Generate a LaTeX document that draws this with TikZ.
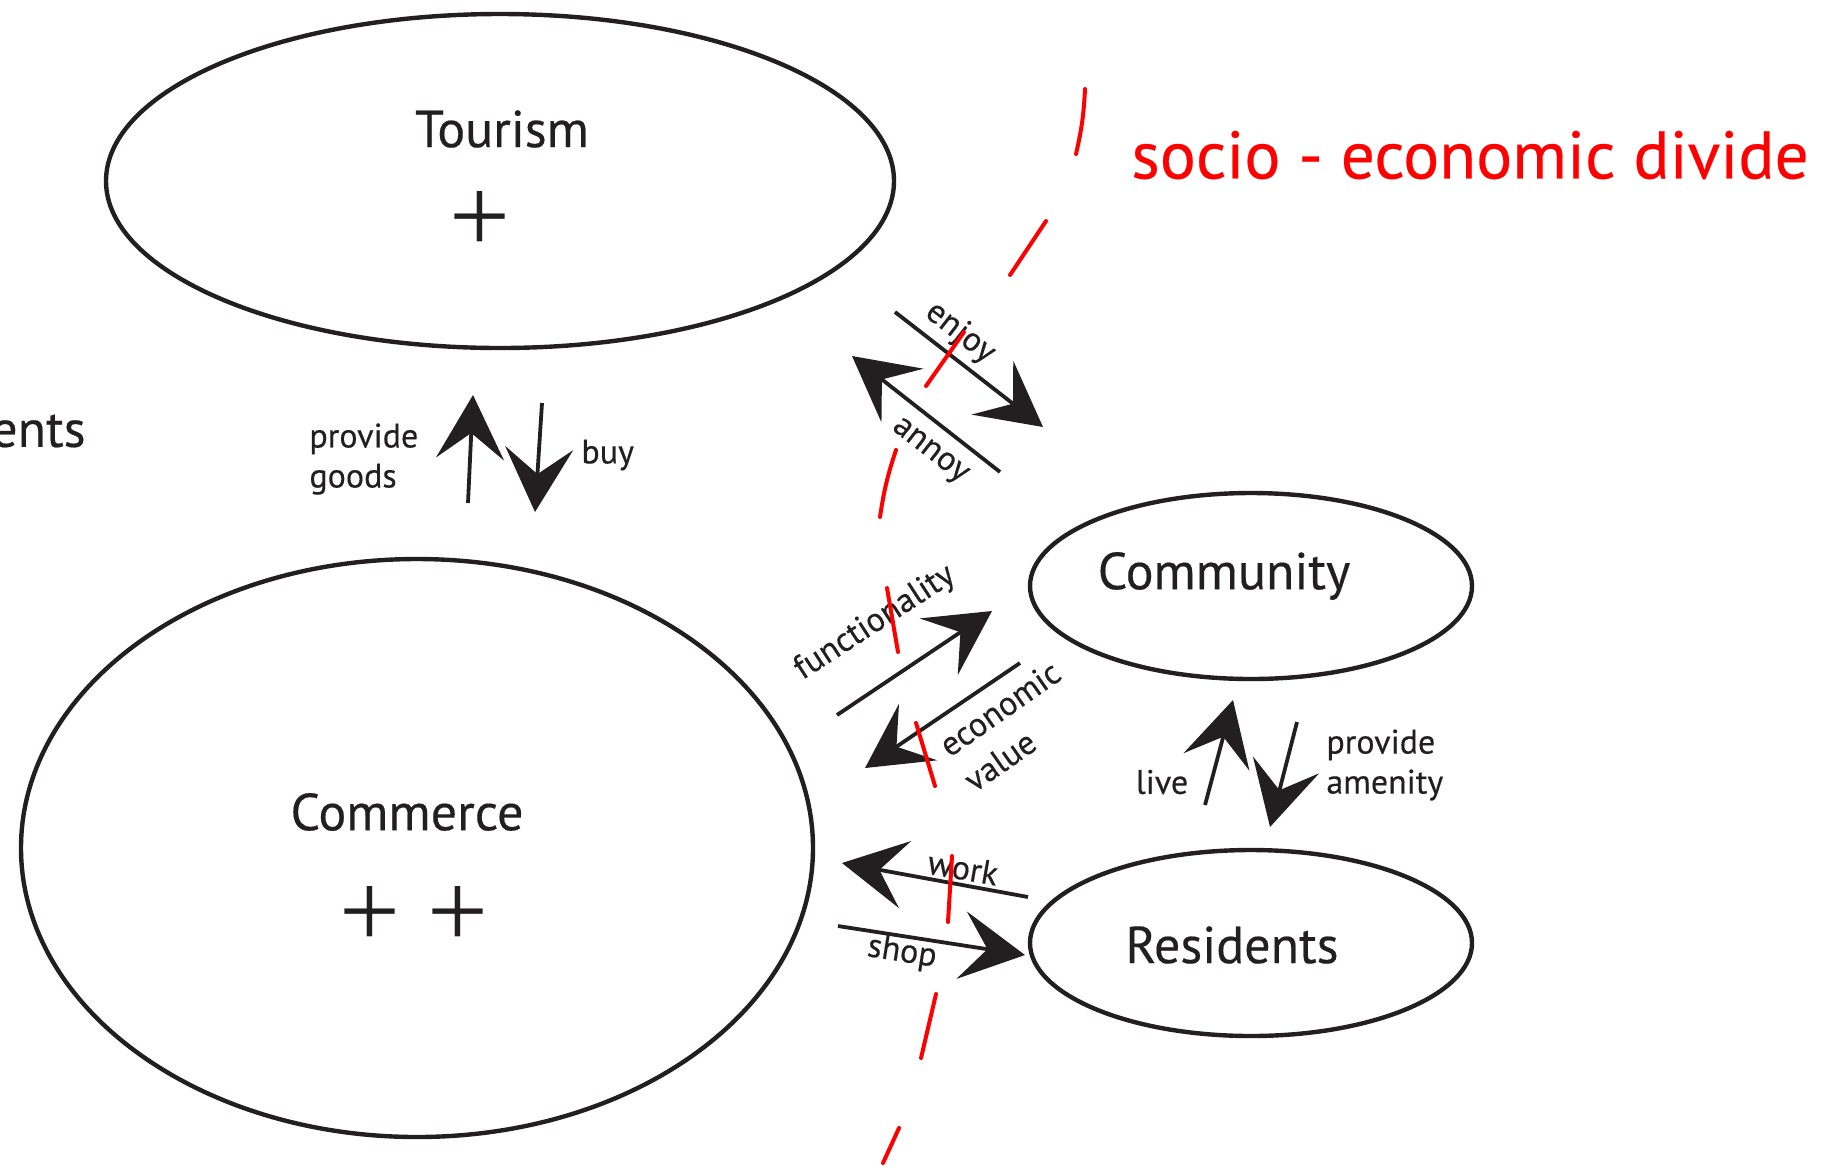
\documentclass[tikz,border=0pt]{standalone}
\usepackage{fontspec}
\setmainfont{PT Sans}[FakeBold=0.35]
\newfontfamily\plusfont{Liberation Serif}
\usetikzlibrary{arrows.meta,shapes.geometric}
\definecolor{ink}{RGB}{35,31,32}
\begin{document}
\begin{tikzpicture}[x=0.5pt,y=-0.5pt,
  bubble/.style={draw=ink, ellipse, line width=2.2pt, inner sep=0pt},
  big/.style={text=ink, inner sep=0pt, font=\fontsize{26}{29}\selectfont},
  small/.style={text=ink, inner sep=0pt, font=\fontsize{17}{20}\selectfont},
  plus/.style={text=ink, inner sep=0pt, font=\plusfont\fontsize{54}{54}\selectfont},
  flow/.style={draw=ink, line width=1.9pt, -{Stealth[length=32pt,width=34pt,inset=13pt]}},
  divide/.style={draw=red, line width=2pt, line cap=round}]
\useasboundingbox (0,0) rectangle (1841,1169);
% bubbles
\node[bubble, minimum width=394pt, minimum height=167pt] (tourism) at (500,181) {};
\node[bubble, minimum width=396pt, minimum height=289pt] (commerce) at (417,848) {};
\node[bubble, minimum width=221pt, minimum height=93pt] (community) at (1251,586) {};
\node[bubble, minimum width=221pt, minimum height=93pt] (residents) at (1251,943) {};
% bubble texts
\node[big] (tourismlbl) at (502,129) {Tourism};
\node[plus] (tourismplus) at (480,222) {+};
\node[big] (commercelbl) at (407,812) {Commerce};
\node[plus] (complus1) at (370,917) {+};
\node[plus] (complus2) at (458,917) {+};
\node[big] (communitylbl) at (1224,576) {Community};
\node[big] (residentslbl) at (1232,945) {Residents};
\node[big, anchor=east] (ents) at (86,431) {ents};
\node[text=red, inner sep=0pt, font=\fontsize{33.7}{38}\selectfont, anchor=west] (dividelbl) at (1131,155) {socio - economic divide};
% arrow end points
\coordinate (pgA) at (468,503); \coordinate (pgB) at (473,395);
\coordinate (buyA) at (542,403); \coordinate (buyB) at (535,512);
\coordinate (enA) at (895,312); \coordinate (enB) at (1043,427);
\coordinate (anA) at (1000,472); \coordinate (anB) at (852,356);
\coordinate (fuA) at (837,715); \coordinate (fuB) at (992,611);
\coordinate (ecA) at (1020,663); \coordinate (ecB) at (865,768);
\coordinate (woA) at (1028,897); \coordinate (woB) at (842,863);
\coordinate (shA) at (838,926); \coordinate (shB) at (1025,955);
\coordinate (liA) at (1205,805); \coordinate (liB) at (1233,700);
\coordinate (amA) at (1297,722); \coordinate (amB) at (1270,827);
\draw[flow] (pgA) -- (pgB);
\draw[flow] (buyA) -- (buyB);
\draw[flow] (enA) -- (enB);
\draw[flow] (anA) -- (anB);
\draw[flow] (fuA) -- (fuB);
\draw[flow] (ecA) -- (ecB);
\draw[flow] (woA) -- (woB);
\draw[flow] (shA) -- (shB);
\draw[flow] (liA) -- (liB);
\draw[flow] (amA) -- (amB);
% arrow labels
\node[small, anchor=west, align=left] (pglbl) at (309,459) {provide\\goods};
\node[small, anchor=west] (buylbl) at (581,455) {buy};
\node[small, rotate=-38] (enlbl) at (960,333) {enjoy};
\node[small, rotate=-38] (anlbl) at (929,452) {annoy};
\node[small, rotate=33] (fulbl) at (875,623) {functionality};
\node[small, rotate=35, align=left, font=\fontsize{17}{21.5}\selectfont] (eclbl) at (1012,726) {economic\\value};
\node[small, rotate=-10] (wolbl) at (963,868) {work};
\node[small, rotate=-9] (shlbl) at (902,953) {shop};
\node[small] (lilbl) at (1162,782) {live};
\node[small, anchor=west, align=left] (amlbl) at (1326,765) {provide\\amenity};
% socio-economic divide (dashed red curve)
\draw[divide] (1085,89) to[bend left=5] (1076,154);
\draw[divide] (1046,221) -- (1010,275);
\draw[divide] (964,332) -- (926,386);
\draw[divide] (896,450) to[bend right=5] (880,517);
\draw[divide] (887,588) -- (898,652);
\draw[divide] (916,723) -- (935,786);
\draw[divide] (952,856) -- (948,922);
\draw[divide] (936,994) -- (921,1058);
\draw[divide] (899,1128) -- (883,1163);
\end{tikzpicture}
\end{document}
